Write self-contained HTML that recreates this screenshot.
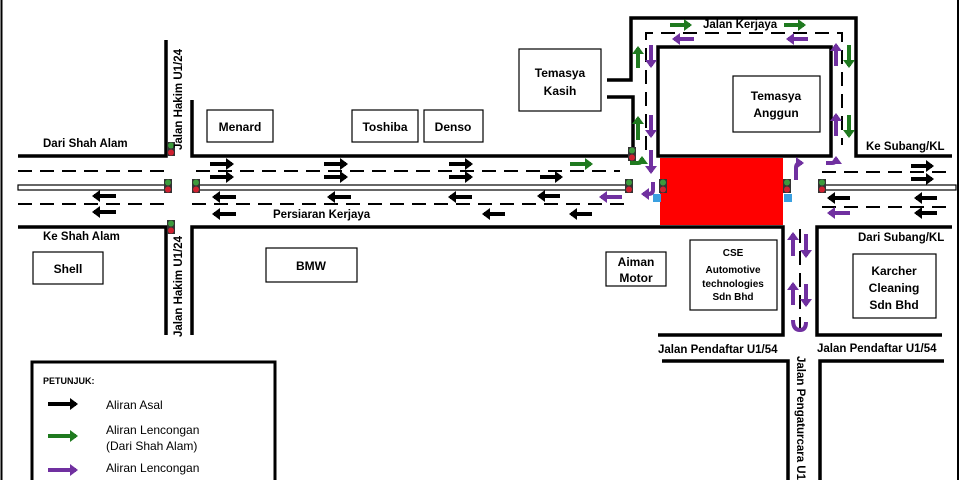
<!DOCTYPE html>
<html><head><meta charset="utf-8"><style>
body{margin:0;background:#fff}
svg{display:block;font-family:"Liberation Sans",Arial,sans-serif}
.t{font-size:12px;fill:#000}
</style></head><body>
<svg width="960" height="480" viewBox="0 0 960 480">
<defs>
<marker id="hk" markerWidth="3" markerHeight="3" refX="1.5" refY="1.5" orient="auto" markerUnits="strokeWidth"><path d="M0,0 L2,1.5 L0,3z" fill="#000"/></marker>
<marker id="hg" markerWidth="3" markerHeight="3" refX="1.5" refY="1.5" orient="auto" markerUnits="strokeWidth"><path d="M0,0 L2,1.5 L0,3z" fill="#1f7a1f"/></marker>
<marker id="hp" markerWidth="3" markerHeight="3" refX="1.5" refY="1.5" orient="auto" markerUnits="strokeWidth"><path d="M0,0 L2,1.5 L0,3z" fill="#7030a0"/></marker>
</defs>
<rect x="0.5" y="0" width="2" height="480" fill="#000"/>
<rect x="957" y="0" width="2" height="480" fill="#000"/>
<g stroke="#000" stroke-width="3.5" fill="none">
<polyline points="18,156 166,156 166,40"/>
<polyline points="192,100 192,156 633,156 633,97 607,97"/>
<polyline points="607,80 631,80 631,18 856,18 856,156 952,156"/>
<polyline points="18,227 166,227 166,335"/>
<polyline points="192,335 192,227 783,227 783,335 658,335"/>
<polyline points="942,335 817,335 817,227 952,227"/>
<rect x="658" y="47" width="173" height="109"/>
<polyline points="662,361 788,361 788,480"/>
<polyline points="820,480 820,361 944,361"/>
</g>
<rect x="660" y="158" width="123" height="67" fill="#ff0000"/>
<g stroke="#000" stroke-width="1.2" fill="none">
<rect x="18" y="185" width="148" height="5"/>
<rect x="196" y="185" width="432" height="5"/>
<rect x="822" y="185" width="134" height="5"/>
</g>
<g stroke="#000" stroke-width="2" stroke-dasharray="14,8" fill="none">
<line x1="18" y1="171" x2="166" y2="171"/>
<line x1="18" y1="204" x2="166" y2="204"/>
<line x1="196" y1="171" x2="620" y2="171"/>
<line x1="192" y1="204" x2="628" y2="204"/>
<line x1="822" y1="172" x2="948" y2="172"/>
<line x1="822" y1="207" x2="948" y2="207"/>
<polyline points="646,150 646,33 842,33 842,145"/>
<line x1="800" y1="229" x2="800" y2="330"/>
</g>
<g stroke="#000" stroke-width="4" marker-end="url(#hk)">
<line x1="210" y1="164" x2="232" y2="164"/><line x1="324" y1="164" x2="346" y2="164"/><line x1="449" y1="164" x2="471" y2="164"/>
<line x1="210" y1="177" x2="232" y2="177"/><line x1="324" y1="177" x2="346" y2="177"/><line x1="449" y1="177" x2="471" y2="177"/><line x1="540" y1="177" x2="561" y2="177"/>
<line x1="236" y1="197" x2="214" y2="197"/><line x1="351" y1="197" x2="329" y2="197"/><line x1="472" y1="197" x2="450" y2="197"/><line x1="560" y1="196" x2="539" y2="196"/>
<line x1="236" y1="214" x2="214" y2="214"/><line x1="505" y1="214" x2="484" y2="214"/><line x1="592" y1="214" x2="571" y2="214"/>
<line x1="116" y1="196" x2="94" y2="196"/><line x1="116" y1="212" x2="94" y2="212"/>
<line x1="911" y1="166" x2="932" y2="166"/><line x1="911" y1="179" x2="932" y2="179"/>
<line x1="850" y1="198" x2="829" y2="198"/><line x1="937" y1="198" x2="916" y2="198"/><line x1="937" y1="213" x2="916" y2="213"/>
<line x1="48" y1="404" x2="76" y2="404"/>
</g>
<g stroke="#1f7a1f" stroke-width="4" fill="none" marker-end="url(#hg)">
<line x1="570" y1="164" x2="591" y2="164"/>
<line x1="670" y1="25" x2="690" y2="25"/><line x1="784" y1="25" x2="804" y2="25"/>
<line x1="638" y1="68" x2="638" y2="48"/><line x1="638" y1="140" x2="638" y2="118"/>
<line x1="849" y1="45" x2="849" y2="66"/><line x1="849" y1="115" x2="849" y2="136"/>
<path d="M630,163 L638,163 Q642,163 642,158"/>
<line x1="48" y1="436" x2="76" y2="436"/>
</g>
<g stroke="#7030a0" stroke-width="4" fill="none" marker-end="url(#hp)">
<line x1="622" y1="197" x2="601" y2="197"/>
<line x1="850" y1="213" x2="829" y2="213"/>
<line x1="694" y1="39" x2="674" y2="39"/><line x1="808" y1="39" x2="788" y2="39"/>
<line x1="651" y1="45" x2="651" y2="66"/><line x1="651" y1="115" x2="651" y2="136"/>
<path d="M651,150 L651,172"/>
<path d="M653,182 L653,190 Q653,194 648,194 L643,194"/>
<line x1="836" y1="66" x2="836" y2="45"/><line x1="836" y1="136" x2="836" y2="115"/>
<path d="M826,163 L832,163 Q836,163 836,158"/>
<path d="M796,180 L796,168 Q796,163 801,163 L802,163"/>
<line x1="793" y1="256" x2="793" y2="234"/><line x1="806" y1="234" x2="806" y2="256"/>
<line x1="793" y1="305" x2="793" y2="284"/><line x1="806" y1="284" x2="806" y2="305"/>
<path d="M793,320 Q793,330 800,330 Q806,330 806,322" marker-end="none"/>
<line x1="48" y1="470" x2="76" y2="470"/>
</g>
<g>
<g transform="translate(167,142)"><rect width="8" height="14" fill="#333"/><circle cx="4" cy="3.5" r="3" fill="#3c9a3c"/><circle cx="4" cy="10.5" r="3" fill="#d02030"/></g>
<g transform="translate(164,179)"><rect width="8" height="14" fill="#333"/><circle cx="4" cy="3.5" r="3" fill="#3c9a3c"/><circle cx="4" cy="10.5" r="3" fill="#d02030"/></g>
<g transform="translate(192,179)"><rect width="8" height="14" fill="#333"/><circle cx="4" cy="3.5" r="3" fill="#3c9a3c"/><circle cx="4" cy="10.5" r="3" fill="#d02030"/></g>
<g transform="translate(167,220)"><rect width="8" height="14" fill="#333"/><circle cx="4" cy="3.5" r="3" fill="#3c9a3c"/><circle cx="4" cy="10.5" r="3" fill="#d02030"/></g>
<g transform="translate(628,147)"><rect width="8" height="14" fill="#333"/><circle cx="4" cy="3.5" r="3" fill="#3c9a3c"/><circle cx="4" cy="10.5" r="3" fill="#d02030"/></g>
<g transform="translate(625,179)"><rect width="8" height="14" fill="#333"/><circle cx="4" cy="3.5" r="3" fill="#3c9a3c"/><circle cx="4" cy="10.5" r="3" fill="#d02030"/></g>
<g transform="translate(659,179)"><rect width="8" height="14" fill="#333"/><circle cx="4" cy="3.5" r="3" fill="#3c9a3c"/><circle cx="4" cy="10.5" r="3" fill="#d02030"/></g>
<g transform="translate(783,179)"><rect width="8" height="14" fill="#333"/><circle cx="4" cy="3.5" r="3" fill="#3c9a3c"/><circle cx="4" cy="10.5" r="3" fill="#d02030"/></g>
<g transform="translate(818,179)"><rect width="8" height="14" fill="#333"/><circle cx="4" cy="3.5" r="3" fill="#3c9a3c"/><circle cx="4" cy="10.5" r="3" fill="#d02030"/></g>
</g>
<rect x="653" y="194" width="8" height="8" fill="#3aa0e0"/>
<rect x="784" y="194" width="8" height="8" fill="#3aa0e0"/>
<g stroke="#000" stroke-width="1.2" fill="#fff">
<rect x="207" y="110" width="66" height="32"/>
<rect x="352" y="110" width="66" height="32"/>
<rect x="424" y="110" width="59" height="32"/>
<rect x="519" y="49" width="82" height="62"/>
<rect x="733" y="76" width="87" height="56"/>
<rect x="33" y="252" width="70" height="32"/>
<rect x="266" y="248" width="91" height="34"/>
<rect x="606" y="252" width="60" height="34"/>
<rect x="690" y="240" width="87" height="70"/>
<rect x="853" y="254" width="83" height="64"/>
</g>
<rect x="32" y="362" width="243" height="130" fill="none" stroke="#000" stroke-width="3"/>
<g class="t" text-anchor="middle" font-weight="bold">
<text x="240" y="131">Menard</text>
<text x="385" y="131">Toshiba</text>
<text x="453" y="131">Denso</text>
<text x="560" y="77">Temasya</text><text x="560" y="95">Kasih</text>
<text x="776" y="100">Temasya</text><text x="776" y="117">Anggun</text>
<text x="68" y="273">Shell</text>
<text x="311" y="270">BMW</text>
<text x="636" y="266">Aiman</text><text x="636" y="282">Motor</text>
<text x="733" y="256" font-size="10">CSE</text><text x="733" y="273" font-size="10">Automotive</text><text x="733" y="287" font-size="10">technologies</text><text x="733" y="300" font-size="10">Sdn Bhd</text>
<text x="894" y="275">Karcher</text><text x="894" y="292">Cleaning</text><text x="894" y="309">Sdn Bhd</text>
</g>
<g font-size="11.5" fill="#000" font-weight="bold">
<text x="43" y="147">Dari  Shah Alam</text>
<text x="43" y="240">Ke  Shah Alam</text>
<text x="273" y="218">Persiaran Kerjaya</text>
<text x="703" y="28">Jalan Kerjaya</text>
<text x="866" y="150">Ke  Subang/KL</text>
<text x="858" y="241">Dari  Subang/KL</text>
<text x="658" y="353">Jalan Pendaftar U1/54</text>
<text x="817" y="352">Jalan Pendaftar U1/54</text>
<text transform="translate(182,150) rotate(-90)">Jalan Hakim U1/24</text>
<text transform="translate(182,337) rotate(-90)">Jalan Hakim U1/24</text>
<text transform="translate(797,356) rotate(90)">Jalan Pengaturcara U1/</text>
</g>
<g fill="#000">
<text x="43" y="384" font-size="9" font-weight="bold">PETUNJUK:</text>
<text x="106" y="409" font-size="12">Aliran Asal</text>
<text x="106" y="434" font-size="12">Aliran Lencongan</text>
<text x="106" y="450" font-size="12">(Dari Shah Alam)</text>
<text x="106" y="472" font-size="12">Aliran Lencongan</text>
</g>
</svg>
</body></html>
